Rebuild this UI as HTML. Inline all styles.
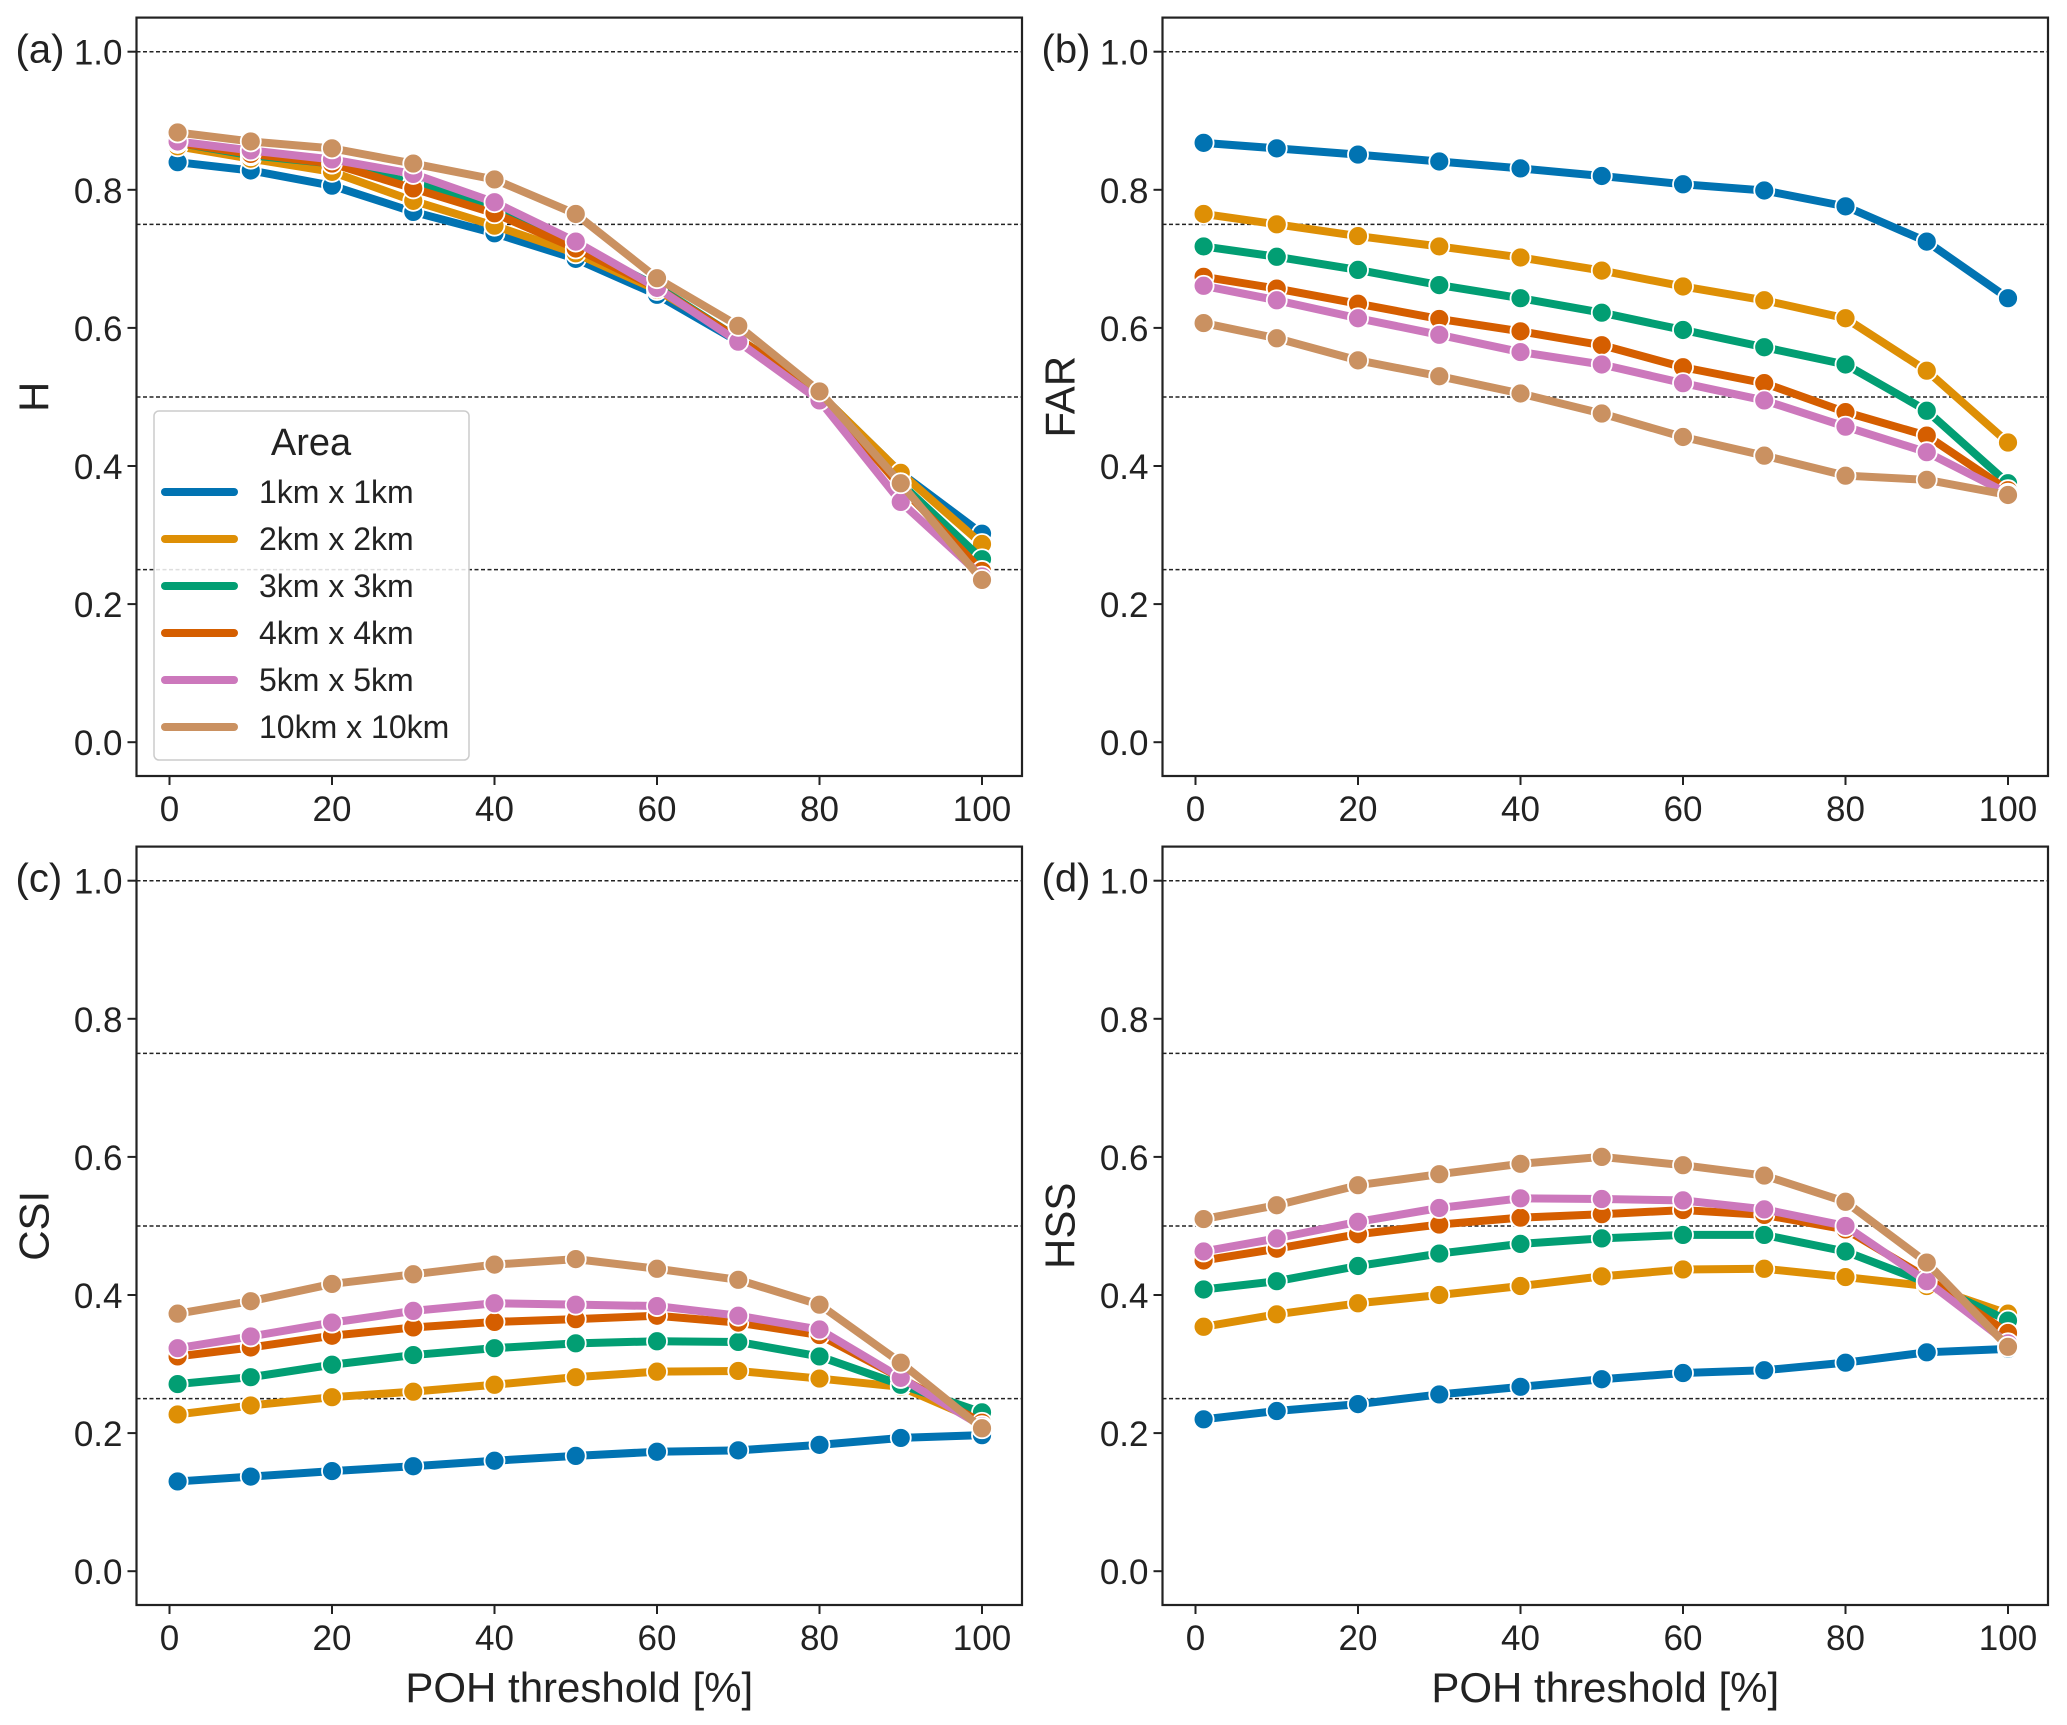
<!DOCTYPE html>
<html><head><meta charset="utf-8"><style>
html,body{margin:0;padding:0;background:#fff}
svg{display:block;font-family:"Liberation Sans",sans-serif}
</style></head><body>
<svg id="fig" width="2067" height="1725" viewBox="0 0 2067 1725" xmlns="http://www.w3.org/2000/svg"></svg>
<script>
const xValues=[1,10,20,30,40,50,60,70,80,90,100];
const seriesNames=["1km x 1km","2km x 2km","3km x 3km","4km x 4km","5km x 5km","10km x 10km"];
const colors=["#0173b2","#de8f05","#029e73","#d55e00","#cc78bc","#ca9161"];
const xTicks=[0,20,40,60,80,100];
const yTicks=[0.0,0.2,0.4,0.6,0.8,1.0];
const refLines=[0.25,0.5,0.75,1.0];
const hValues=[
[.84,.828,.806,.768,.737,.70,.648,.58,.505,.39,.302],
[.863,.845,.826,.784,.748,.708,.655,.585,.505,.39,.287],
[.868,.85,.838,.81,.775,.72,.66,.585,.505,.375,.265],
[.868,.852,.838,.802,.766,.715,.658,.585,.505,.37,.248],
[.87,.857,.844,.823,.782,.725,.658,.58,.495,.348,.24],
[.883,.87,.86,.838,.815,.765,.672,.603,.508,.375,.235]];
const farValues=[
[.868,.86,.851,.841,.831,.82,.808,.799,.776,.725,.643],
[.765,.75,.733,.718,.702,.683,.66,.64,.614,.538,.434],
[.718,.703,.684,.662,.643,.622,.597,.572,.547,.48,.375],
[.674,.657,.635,.613,.595,.575,.543,.52,.478,.444,.365],
[.661,.64,.614,.59,.565,.547,.52,.495,.457,.42,.36],
[.607,.585,.553,.53,.505,.476,.442,.415,.386,.38,.358]];
const csiValues=[
[.13,.137,.145,.152,.16,.167,.173,.175,.183,.193,.197],
[.227,.24,.252,.26,.27,.281,.289,.29,.279,.267,.216],
[.271,.281,.299,.313,.323,.33,.333,.332,.311,.27,.23],
[.311,.324,.341,.353,.361,.365,.37,.36,.342,.28,.215],
[.323,.34,.36,.377,.388,.386,.384,.37,.35,.28,.21],
[.373,.391,.416,.43,.444,.452,.438,.422,.386,.302,.207]];
const hssValues=[
[.22,.232,.242,.256,.267,.278,.287,.291,.302,.317,.322],
[.354,.372,.388,.4,.413,.427,.437,.438,.426,.413,.373],
[.408,.42,.442,.46,.474,.482,.487,.487,.463,.418,.363],
[.45,.467,.488,.502,.512,.517,.523,.516,.495,.425,.345],
[.463,.482,.506,.526,.54,.539,.537,.524,.5,.42,.33],
[.51,.53,.559,.575,.59,.6,.588,.573,.535,.447,.325]];

const NS="http://www.w3.org/2000/svg";
const svg=document.getElementById('fig');
function mk(tag,attrs,parent){const e=document.createElementNS(NS,tag);for(const k in attrs)e.setAttribute(k,attrs[k]);(parent||svg).appendChild(e);return e;}

const panels=[
 {id:'a',label:'(a)',ylab:'H',data:hValues,dx:0,dy:0,legend:true,xlab:false},
 {id:'b',label:'(b)',ylab:'FAR',data:farValues,dx:1026,dy:0,legend:false,xlab:false},
 {id:'c',label:'(c)',ylab:'CSI',data:csiValues,dx:0,dy:829,legend:false,xlab:true},
 {id:'d',label:'(d)',ylab:'HSS',data:hssValues,dx:1026,dy:829,legend:false,xlab:true}];

panels.forEach(p=>{
 const L=136.5+p.dx,R=1022+p.dx,T=17.6+p.dy,B=776+p.dy;
 const xs=v=>169.5+p.dx+(v)*(982-169.5)/100;
 const ys=v=>742.2+p.dy-v*690.5;
 const g=mk('g',{});
 
 
 refLines.forEach(r=>{
  const l=mk('line',{x1:L,x2:R,y1:ys(r),y2:ys(r),stroke:'#222','stroke-width':1.5,'stroke-dasharray':'4,2.5'},g);
  
  
 });
 p.data.forEach((s,i)=>{
  const pts=s.map((v,j)=>xs(xValues[j])+','+ys(v)).join(' ');
  const pl=mk('polyline',{points:pts,fill:'none',stroke:colors[i],'stroke-width':8,'stroke-linejoin':'round','stroke-linecap':'round'},g);
  
  
  s.forEach((v,j)=>{
   const c=mk('circle',{cx:xs(xValues[j]),cy:ys(v),r:10,fill:colors[i],stroke:'#fff','stroke-width':1.8},g);
   
   
  });
 });
 const box=mk('rect',{x:L,y:T,width:R-L,height:B-T,fill:'none',stroke:'#222','stroke-width':2.2},g);
 
 
 yTicks.forEach(t=>{
  mk('line',{x1:L-9,x2:L,y1:ys(t),y2:ys(t),stroke:'#222','stroke-width':2},g);
  const tx=mk('text',{x:L-14,y:ys(t)+13,'text-anchor':'end','font-size':35,fill:'#222'},g);
  tx.textContent=t.toFixed(1);
  
  
 });
 xTicks.forEach(t=>{
  mk('line',{x1:xs(t),x2:xs(t),y1:B,y2:B+9,stroke:'#222','stroke-width':2},g);
  const tx=mk('text',{x:xs(t),y:B+45,'text-anchor':'middle','font-size':35,fill:'#222'},g);
  tx.textContent=t;
  
  
 });
 const yl=mk('text',{x:0,y:0,'text-anchor':'middle','font-size':42,fill:'#222',transform:`translate(${L-88},${(T+B)/2}) rotate(-90)`},g);
 yl.textContent=p.ylab;
 
 
 const pl=mk('text',{x:L-121,y:T+45,'font-size':40,fill:'#222'},g);
 pl.textContent=p.label;
 
 
 if(p.xlab){
  const xl=mk('text',{x:(L+R)/2,y:B+97,'text-anchor':'middle','font-size':42,fill:'#222'},g);
  xl.textContent='POH threshold [%]';
  
  
 }
 if(p.legend){
  const lg=mk('g',{},g);
  
  
  mk('rect',{x:154,y:411,width:315,height:349,rx:5,fill:'#fff','fill-opacity':0.85,stroke:'#ccc','stroke-width':1.5},lg);
  const tt=mk('text',{x:311,y:455,'text-anchor':'middle','font-size':38,fill:'#222'},lg);
  tt.textContent='Area';
  
  
  seriesNames.forEach((n,i)=>{
   const yy=492+i*47;
   const e=mk('g',{},lg);
   
   
   mk('line',{x1:165,x2:234,y1:yy,y2:yy,stroke:colors[i],'stroke-width':8,'stroke-linecap':'round'},e);
   const t=mk('text',{x:259,y:yy+11,'font-size':32,fill:'#222'},e);
   t.textContent=n;
  });
 }
});
</script>
</body></html>
